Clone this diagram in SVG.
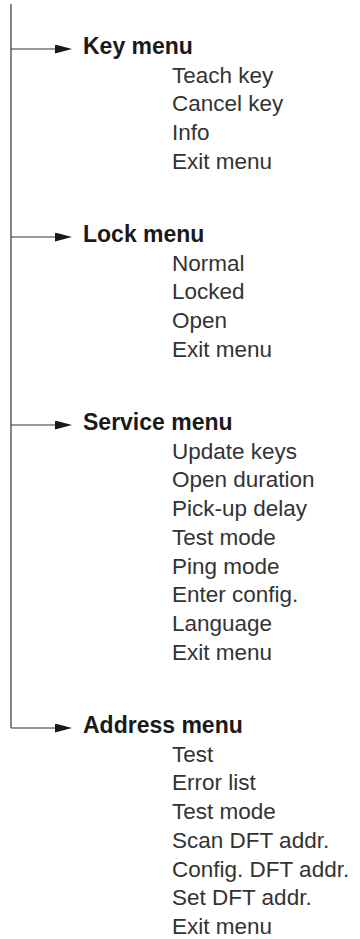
<svg xmlns="http://www.w3.org/2000/svg" width="360" height="939" viewBox="0 0 360 939">
<style>
.h{font-family:"Liberation Sans",Arial,sans-serif;font-weight:bold;font-size:23px;fill:#1a1a1a}
.i{font-family:"Liberation Sans",Arial,sans-serif;font-size:22.5px;fill:#333}
.c{stroke:#333;stroke-width:1.2;fill:none}
</style>
<defs>
<marker id="ah" viewBox="0 0 17 9" refX="0" refY="4.5" markerWidth="17" markerHeight="9" markerUnits="userSpaceOnUse" orient="auto">
<path d="M0,0 L17,4.5 L0,9 z" fill="#1a1a1a"/>
</marker>
</defs>
<g id="connectors">
<line class="c" x1="11" y1="4" x2="11" y2="728"/>
<line class="c" x1="11" y1="49" x2="55" y2="49" marker-end="url(#ah)"/>
<line class="c" x1="11" y1="237" x2="55" y2="237" marker-end="url(#ah)"/>
<line class="c" x1="11" y1="425" x2="55" y2="425" marker-end="url(#ah)"/>
<line class="c" x1="11" y1="728" x2="55" y2="728" marker-end="url(#ah)"/>
</g>
<g id="key-menu">
<text class="h" x="83" y="54">Key menu</text>
<text class="i" x="172" y="82.7">Teach key</text>
<text class="i" x="172" y="111.4">Cancel key</text>
<text class="i" x="172" y="140.1">Info</text>
<text class="i" x="172" y="168.8">Exit menu</text>
</g>
<g id="lock-menu">
<text class="h" x="83" y="242">Lock menu</text>
<text class="i" x="172" y="270.7">Normal</text>
<text class="i" x="172" y="299.4">Locked</text>
<text class="i" x="172" y="328.1">Open</text>
<text class="i" x="172" y="356.8">Exit menu</text>
</g>
<g id="service-menu">
<text class="h" x="83" y="430">Service menu</text>
<text class="i" x="172" y="458.7">Update keys</text>
<text class="i" x="172" y="487.4">Open duration</text>
<text class="i" x="172" y="516.1">Pick-up delay</text>
<text class="i" x="172" y="544.8">Test mode</text>
<text class="i" x="172" y="573.5">Ping mode</text>
<text class="i" x="172" y="602.2">Enter config.</text>
<text class="i" x="172" y="630.9">Language</text>
<text class="i" x="172" y="659.6">Exit menu</text>
</g>
<g id="address-menu">
<text class="h" x="83" y="733">Address menu</text>
<text class="i" x="172" y="761.7">Test</text>
<text class="i" x="172" y="790.4">Error list</text>
<text class="i" x="172" y="819.1">Test mode</text>
<text class="i" x="172" y="847.8">Scan DFT addr.</text>
<text class="i" x="172" y="876.5">Config. DFT addr.</text>
<text class="i" x="172" y="905.2">Set DFT addr.</text>
<text class="i" x="172" y="933.9">Exit menu</text>
</g>
</svg>
